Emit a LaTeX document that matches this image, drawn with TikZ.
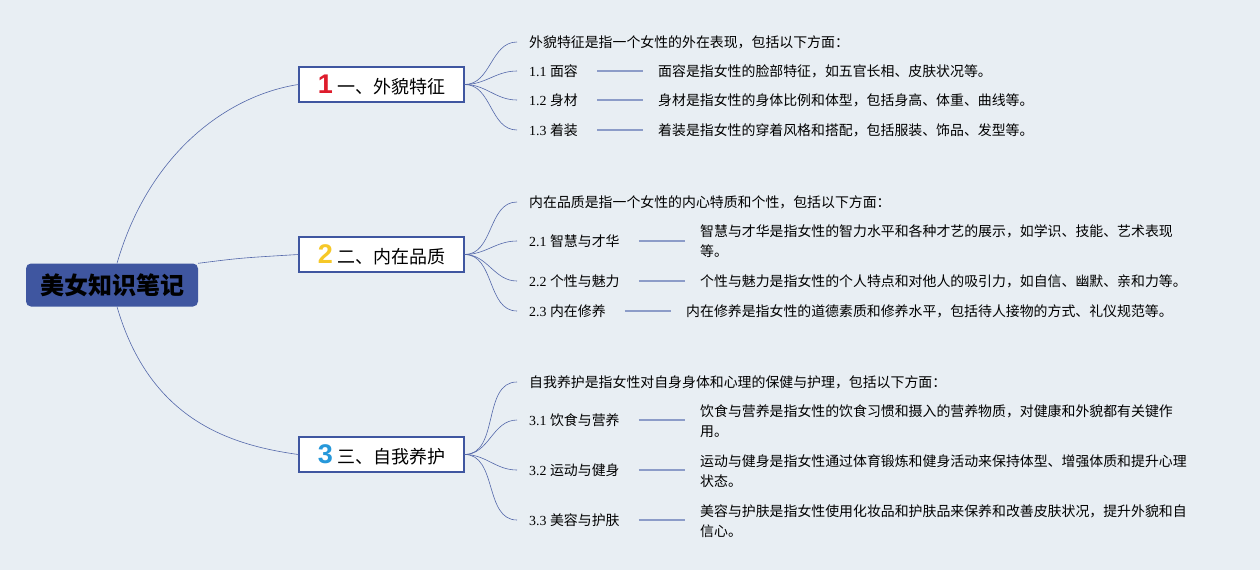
\documentclass[tikz,border=0pt]{standalone}
\usepackage{fontspec}
\setmainfont{Liberation Serif}
\newfontfamily\cjk{Noto Sans CJK SC}
\newfontfamily\numfont{Liberation Sans}
\usetikzlibrary{positioning,calc}
\definecolor{bgblue}{RGB}{232,238,243}
\definecolor{rootblue}{RGB}{63,86,160}
\definecolor{edgeblue}{RGB}{84,104,170}
\definecolor{linkblue}{RGB}{140,156,200}
\definecolor{numred}{RGB}{222,28,44}
\definecolor{numyellow}{RGB}{246,200,40}
\definecolor{numblue}{RGB}{38,152,218}

\begin{document}
\begin{tikzpicture}[x=1pt,y=-1pt,
    topic/.style={draw=rootblue, line width=1.3pt, fill=white, minimum width=165pt, minimum height=35pt, inner sep=0pt, font=\cjk\fontsize{18}{20}\selectfont},
    leaf/.style={anchor=west, inner sep=0pt, align=left, font=\fontsize{13.9}{20}\selectfont},
    edge/.style={draw=edgeblue, line width=0.6pt},
    link/.style={draw=linkblue, line width=1.1pt}]
    \fill[bgblue] (0,0) rectangle (1260,570);
    \useasboundingbox (0,0) rectangle (1260,570);

    % root
    \node[fill=rootblue, rounded corners=5pt, minimum width=172pt, minimum height=43pt, inner sep=0pt,
          font=\cjk\bfseries\fontsize{24}{26}\selectfont] (root) at (112,285) {美女知识笔记};

    % main topics
    \node[topic] (b1) at (381.5,84.5) {{\numfont\bfseries\fontsize{27}{27}\selectfont\color{numred}1} 一、外貌特征};
    \node[topic] (b2) at (381.5,254.5) {{\numfont\bfseries\fontsize{27}{27}\selectfont\color{numyellow}2} 二、内在品质};
    \node[topic] (b3) at (381.5,454.5) {{\numfont\bfseries\fontsize{27}{27}\selectfont\color{numblue}3} 三、自我养护};

    \draw[edge] ($(root.north)+(5,0)$) .. controls (150,150) and (230,95) .. (b1.west);
    \draw[edge] (root.north east) .. controls (240,258) .. (b2.west);
    \draw[edge] ($(root.south)+(5,0)$) .. controls (150,420) and (230,445) .. (b3.west);

    % 1
    \node[leaf] (h1) at (529,42) {\cjk 外貌特征是指一个女性的外在表现，包括以下方面：};
    \node[leaf] (l11) at (529,71) {1.1 {\cjk 面容}};
    \node[leaf] (l12) at (529,100) {1.2 {\cjk 身材}};
    \node[leaf] (l13) at (529,130) {1.3 {\cjk 着装}};
    \node[leaf] (d11) at (658,71) {\cjk 面容是指女性的脸部特征，如五官长相、皮肤状况等。};
    \node[leaf] (d12) at (658,100) {\cjk 身材是指女性的身体比例和体型，包括身高、体重、曲线等。};
    \node[leaf] (d13) at (658,130) {\cjk 着装是指女性的穿着风格和搭配，包括服装、饰品、发型等。};

    % 2
    \node[leaf] (h2) at (529,202) {\cjk 内在品质是指一个女性的内心特质和个性，包括以下方面：};
    \node[leaf] (l21) at (529,241) {2.1 {\cjk 智慧与才华}};
    \node[leaf] (l22) at (529,281) {2.2 {\cjk 个性与魅力}};
    \node[leaf] (l23) at (529,311) {2.3 {\cjk 内在修养}};
    \node[leaf] (d21) at (700,241) {\cjk 智慧与才华是指女性的智力水平和各种才艺的展示，如学识、技能、艺术表现\\\cjk 等。};
    \node[leaf] (d22) at (700,281) {\cjk 个性与魅力是指女性的个人特点和对他人的吸引力，如自信、幽默、亲和力等。};
    \node[leaf] (d23) at (686,311) {\cjk 内在修养是指女性的道德素质和修养水平，包括待人接物的方式、礼仪规范等。};

    % 3
    \node[leaf] (h3) at (529,382) {\cjk 自我养护是指女性对自身身体和心理的保健与护理，包括以下方面：};
    \node[leaf] (l31) at (529,420) {3.1 {\cjk 饮食与营养}};
    \node[leaf] (l32) at (529,470) {3.2 {\cjk 运动与健身}};
    \node[leaf] (l33) at (529,520) {3.3 {\cjk 美容与护肤}};
    \node[leaf] (d31) at (700,421) {\cjk 饮食与营养是指女性的饮食习惯和摄入的营养物质，对健康和外貌都有关键作\\\cjk 用。};
    \node[leaf] (d32) at (700,471) {\cjk 运动与健身是指女性通过体育锻炼和健身活动来保持体型、增强体质和提升心理\\\cjk 状态。};
    \node[leaf] (d33) at (700,521) {\cjk 美容与护肤是指女性使用化妆品和护肤品来保养和改善皮肤状况，提升外貌和自\\\cjk 信心。};

    % fans
    \foreach \b/\t in {b1/h1,b1/l11,b1/l12,b1/l13,b2/h2,b2/l21,b2/l22,b2/l23,b3/h3,b3/l31,b3/l32,b3/l33}
        \draw[edge] (\b.east) to[out=0,in=180] ($(\t.west)+(-12,0)$);

    % links
    \foreach \l/\d in {l11/d11,l12/d12,l13/d13,l21/d21,l22/d22,l23/d23,l31/d31,l32/d32,l33/d33}
        \draw[link] ($(\l.east)+(19,0)$) -- ($(\d.west |- \l.east)+(-15,0)$);
\end{tikzpicture}
\end{document}
